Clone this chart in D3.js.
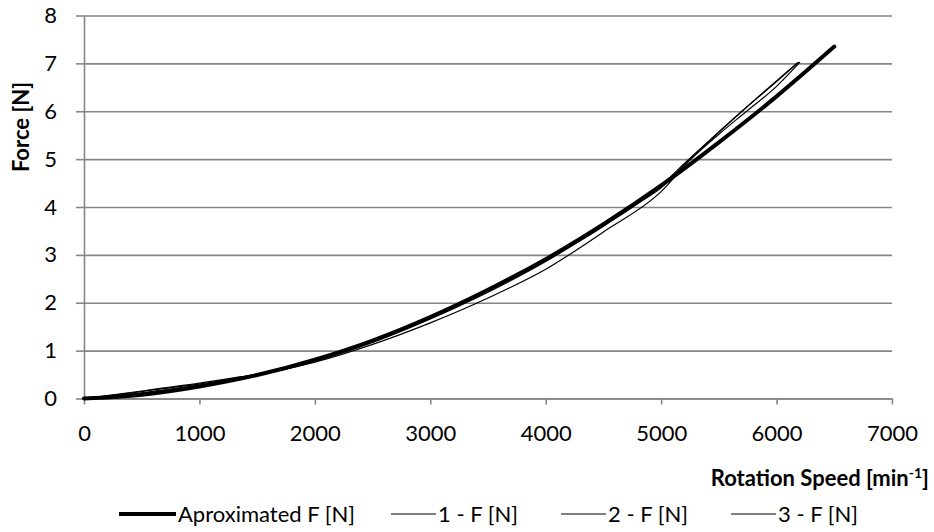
<!DOCTYPE html>
<html>
<head>
<meta charset="utf-8">
<script src="https://cdn.jsdelivr.net/npm/d3@7"></script>
<style>
  body { margin: 0; background: #ffffff; }
  text { font-family: Lato, "Open Sans", sans-serif; fill: #000; }
</style>
</head>
<body>
<svg id="chart" width="934" height="532"></svg>
<script>
// Fitted curve (thick line)
const speedApprox = [0, 500, 1000, 1500, 2000, 2500, 3000, 3500, 4000, 4500, 5000, 5500, 6000, 6500];
const forceApprox = [0, 0.08, 0.25, 0.49, 0.81, 1.21, 1.70, 2.27, 2.91, 3.64, 4.45, 5.35, 6.31, 7.35];

// Measurement runs (thin lines)
const speed1 = [0, 300, 660, 1000, 1350, 1700, 2000, 2500, 3000, 3500, 4000, 4500, 4800, 5000, 5200, 5450, 5700, 6000, 6190];
const force1 = [0, 0.09, 0.21, 0.32, 0.45, 0.60, 0.78, 1.17, 1.66, 2.22, 2.86, 3.62, 4.08, 4.40, 4.88, 5.45, 6.00, 6.62, 7.02];
const speed2 = [0, 300, 660, 1000, 1350, 1700, 2000, 2500, 3000, 3500, 4000, 4500, 5000, 5250, 5500, 5740, 6000, 6200];
const force2 = [0, 0.08, 0.20, 0.30, 0.44, 0.59, 0.76, 1.13, 1.58, 2.10, 2.70, 3.48, 4.32, 4.98, 5.52, 6.00, 6.52, 7.02];
const speed3 = [0, 300, 660, 1000, 1350, 1700, 2000, 2500, 3000, 3500, 4000, 4500, 5000, 5220, 5700, 6180];
const force3 = [0, 0.06, 0.17, 0.28, 0.42, 0.60, 0.80, 1.22, 1.70, 2.25, 2.88, 3.60, 4.45, 4.95, 6.00, 7.01];

const seriesNames = ["Aproximated F [N]", "1 - F [N]", "2 - F [N]", "3 - F [N]"];
const xTicks = [0, 1000, 2000, 3000, 4000, 5000, 6000, 7000];
const yTicks = [0, 1, 2, 3, 4, 5, 6, 7, 8];

const series = [
  { name: seriesNames[0], xs: speedApprox, ys: forceApprox, width: 4 },
  { name: seriesNames[1], xs: speed1, ys: force1, width: 1.2 },
  { name: seriesNames[2], xs: speed2, ys: force2, width: 1.2 },
  { name: seriesNames[3], xs: speed3, ys: force3, width: 1.2 }
];

const svg = d3.select("#chart");
const plot = { left: 84, right: 892, top: 15.5, bottom: 398.5 };
const gridColor = "#868686";
const fontSize = "22px";

const x = d3.scaleLinear().domain([0, 7000]).range([plot.left, plot.right]);
const y = d3.scaleLinear().domain([0, 8]).range([plot.bottom, plot.top]);

// Horizontal gridlines
svg.append("g")
  .attr("transform", `translate(${plot.left},0)`)
  .call(d3.axisLeft(y).tickValues(yTicks).tickSize(-(plot.right - plot.left)).tickFormat(""))
  .call(g => g.select(".domain").remove())
  .call(g => g.selectAll("line").attr("stroke", gridColor).attr("stroke-width", 1.6));

// Y axis with outside ticks
svg.append("g")
  .attr("transform", `translate(${plot.left},0)`)
  .call(d3.axisLeft(y).tickValues(yTicks).tickSize(8).tickSizeOuter(0).tickPadding(19))
  .call(g => g.select(".domain").attr("stroke", gridColor).attr("stroke-width", 1.6))
  .call(g => g.selectAll("line").attr("stroke", gridColor).attr("stroke-width", 1.6))
  .call(g => g.selectAll("text").style("font-size", fontSize).attr("fill", "#000"));

// X axis
svg.append("g")
  .attr("transform", `translate(0,${plot.bottom})`)
  .call(d3.axisBottom(x).tickValues(xTicks).tickSize(6).tickSizeOuter(0).tickPadding(21).tickFormat(d3.format("d")))
  .call(g => g.select(".domain").attr("stroke", gridColor).attr("stroke-width", 1.6))
  .call(g => g.selectAll("line").attr("stroke", gridColor).attr("stroke-width", 1.6))
  .call(g => g.selectAll("text").style("font-size", fontSize).attr("fill", "#000"));

// Lines: thin runs first, fitted curve on top
const line = d3.line().curve(d3.curveMonotoneX);
[series[1], series[2], series[3], series[0]].forEach(s => {
  const pts = s.xs.map((v, i) => [x(v), y(s.ys[i])]);
  svg.append("path")
    .attr("d", line(pts))
    .attr("fill", "none")
    .attr("stroke", "#000")
    .attr("stroke-width", s.width)
    .attr("stroke-linecap", "round")
    .attr("stroke-linejoin", "round");
});

// Axis titles
svg.append("text")
  .attr("transform", "translate(21,127) rotate(-90)")
  .attr("text-anchor", "middle")
  .attr("dy", "0.35em")
  .style("font-size", fontSize)
  .style("font-weight", "bold")
  .text("Force [N]");

const xTitle = svg.append("text")
  .attr("x", 929)
  .attr("y", 486)
  .attr("text-anchor", "end")
  .style("font-size", fontSize)
  .style("font-weight", "bold");
xTitle.append("tspan").text("Rotation Speed [min");
xTitle.append("tspan").attr("dy", -8).style("font-size", "14px").text("-1");
xTitle.append("tspan").attr("dy", 8).text("]");

// Legend
const legendY = 514;
const legendItems = [
  { s: series[0], x0: 119, len: 57 },
  { s: series[1], x0: 391, len: 45 },
  { s: series[2], x0: 561, len: 45 },
  { s: series[3], x0: 731, len: 45 }
];
legendItems.forEach(it => {
  svg.append("line")
    .attr("x1", it.x0).attr("x2", it.x0 + it.len)
    .attr("y1", legendY).attr("y2", legendY)
    .attr("stroke", "#000")
    .attr("stroke-width", it.s.width);
  svg.append("text")
    .attr("x", it.x0 + it.len + 2)
    .attr("y", legendY)
    .attr("dy", "0.36em")
    .style("font-size", fontSize)
    .text(it.s.name);
});
</script>
</body>
</html>
